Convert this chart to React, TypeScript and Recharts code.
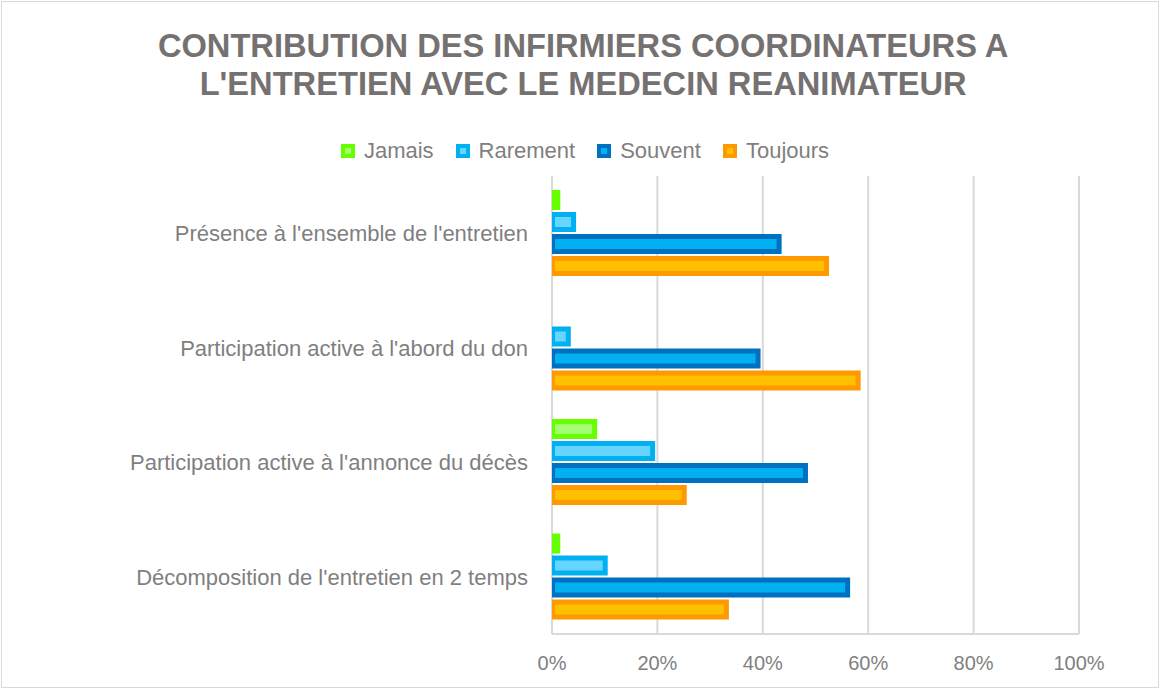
import React from 'react';
import { BarChart, Bar, XAxis, YAxis, CartesianGrid, Legend } from 'recharts';

const categories = [
  "Présence à l'ensemble de l'entretien",
  "Participation active à l'abord du don",
  "Participation active à l'annonce du décès",
  "Décomposition de l'entretien en 2 temps",
];
const jamais = [1, 0, 8, 1];
const rarement = [4, 3, 19, 10];
const souvent = [43, 39, 48, 56];
const toujours = [52, 58, 25, 33];
const xTicks = [0, 20, 40, 60, 80, 100];

const seriesDefs = [
  { key: 'Jamais', values: jamais, outer: '#66FF00', inner: '#A3FF73' },
  { key: 'Rarement', values: rarement, outer: '#00B0F0', inner: '#66D5FF' },
  { key: 'Souvent', values: souvent, outer: '#0070C0', inner: '#00B0F0' },
  { key: 'Toujours', values: toujours, outer: '#FF9900', inner: '#FFC000' },
];

const data = categories.map((name, i) => {
  const row: any = { name };
  seriesDefs.forEach((s) => (row[s.key] = s.values[i]));
  return row;
});

const FONT = "'Liberation Sans Narrow', 'Arial Narrow', 'Liberation Sans', Arial, sans-serif";
const TEXT = '#7F7F7F';

const makeShape = (outer: string, inner: string) => (props: any) => {
  const { x, y, width, height } = props;
  if (!width || width <= 0) return <g />;
  return (
    <g>
      <rect x={x} y={y} width={width + 3} height={height} fill={outer} />
      {width > 8 && (
        <rect x={x + 3} y={y + 5} width={width - 5} height={height - 10} fill={inner} />
      )}
    </g>
  );
};

const LegendContent = () => (
  <div style={{ display: 'flex', justifyContent: 'center', alignItems: 'center', fontFamily: FONT, fontSize: 22, color: TEXT, paddingLeft: 30 }}>
    {seriesDefs.map((s) => (
      <div key={s.key} style={{ display: 'flex', alignItems: 'center', marginRight: 22 }}>
        <div style={{ width: 14, height: 14, background: s.outer, display: 'flex', alignItems: 'center', justifyContent: 'center', marginRight: 9 }}>
          <div style={{ width: 6, height: 6, background: s.inner }} />
        </div>
        <span>{s.key}</span>
      </div>
    ))}
  </div>
);

export default function App() {
  return (
    <div style={{ position: 'fixed', left: 0, top: 0, width: 1162, height: 691, background: '#fff' }}>
      <div style={{ position: 'absolute', left: 1, top: 1, width: 1158, height: 687, border: '1.5px solid #D9D9D9', boxSizing: 'border-box' }} />
      <div style={{ position: 'absolute', left: 2, top: 26, width: 1162, textAlign: 'center', fontFamily: FONT, fontWeight: 'bold', fontSize: 34, lineHeight: '38px', color: '#767171', transform: 'scaleX(0.96)', transformOrigin: '584px 0' }}>
        CONTRIBUTION DES INFIRMIERS COORDINATEURS A<br />L'ENTRETIEN AVEC LE MEDECIN REANIMATEUR
      </div>
      <BarChart
        width={1162}
        height={691}
        data={data}
        layout="vertical"
        margin={{ top: 176, right: 83, bottom: 17, left: 0 }}
        barSize={20}
        barGap={2}
      >
        <CartesianGrid horizontal={false} stroke="#D9D9D9" strokeWidth={2} />
        <XAxis
          type="number"
          domain={[0, 100]}
          ticks={xTicks}
          tickFormatter={(v: number) => `${v}%`}
          axisLine={{ stroke: '#D9D9D9', strokeWidth: 2 }}
          tickLine={false}
          tickSize={0}
          tickMargin={22}
          height={40}
          tick={{ fill: TEXT, fontSize: 20, fontFamily: FONT }}
        />
        <YAxis
          type="category"
          dataKey="name"
          width={552}
          axisLine={false}
          tickLine={false}
          tickSize={0}
          tickMargin={24}
          tick={{ fill: TEXT, fontSize: 22, fontFamily: FONT }}
        />
        <Legend
          layout="horizontal"
          verticalAlign="middle"
          align="center"
          wrapperStyle={{ top: 138, left: 0, width: 1162 }}
          content={LegendContent}
        />
        {seriesDefs.map((s) => (
          <Bar key={s.key} dataKey={s.key} fill={s.outer} isAnimationActive={false} shape={makeShape(s.outer, s.inner)} />
        ))}
      </BarChart>
    </div>
  );
}
